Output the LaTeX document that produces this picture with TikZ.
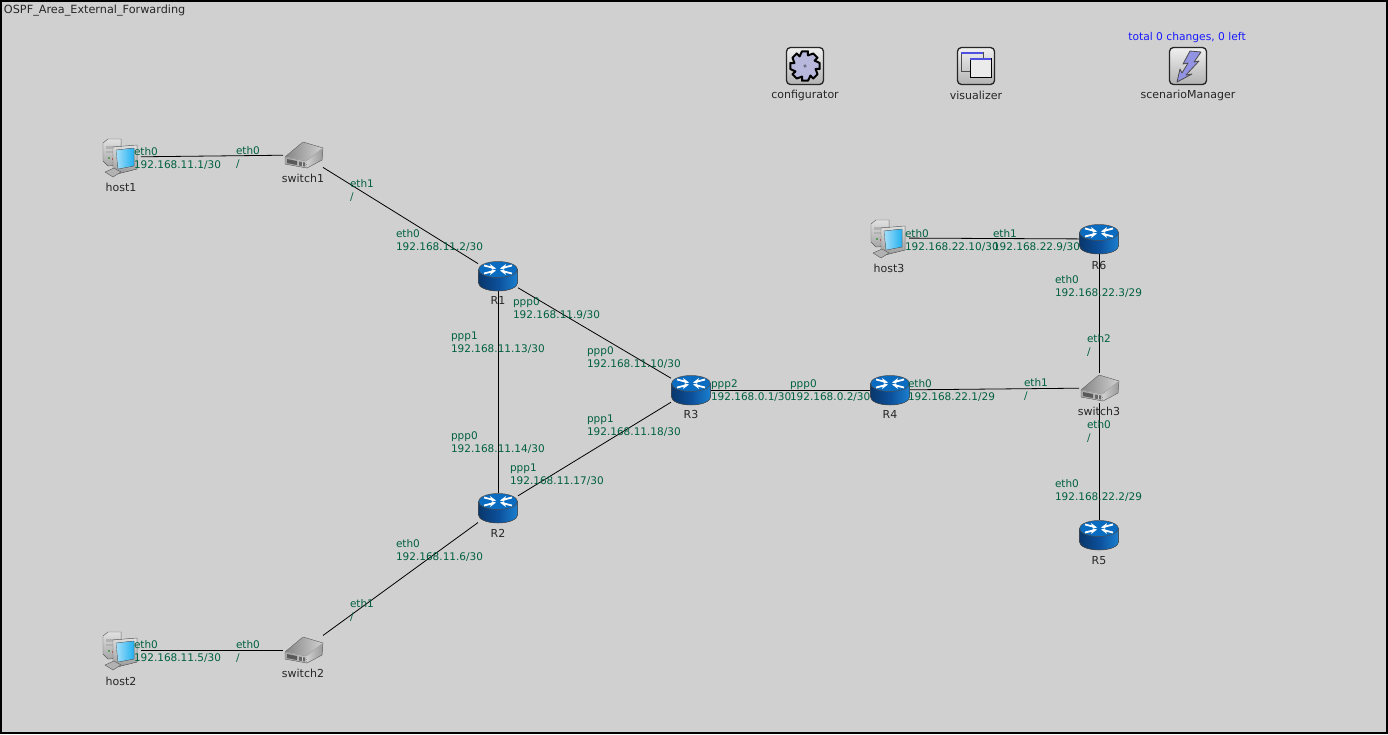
\documentclass[tikz,border=0pt]{standalone}
\usepackage{fontspec}
\setmainfont{DejaVu Sans}
\definecolor{bgc}{HTML}{D0D0D0}
\definecolor{lblc}{HTML}{00603F}
\definecolor{routertop}{HTML}{0A6CC0}
\definecolor{routerdark}{HTML}{0C4F9A}
\definecolor{routerlight}{HTML}{1A80D0}
\definecolor{cyanscr}{HTML}{20B0F0}
\definecolor{gearc}{HTML}{B8B8DC}
\definecolor{winblue}{HTML}{5050E0}
\tikzset{
  box/.style={draw=none,fill=none,inner sep=0pt,outer sep=0pt,minimum width=40pt,minimum height=30pt},
  hostbox/.style={box,minimum height=40pt},
  link/.style={draw=black,line width=0.8pt},
  lbl/.style={anchor=north west,inner sep=0pt,outer sep=0pt,align=left,text=lblc,font=\fontsize{10.5}{13}\selectfont},
  nametext/.style={anchor=center,inner sep=0pt,outer sep=0pt,yshift=0.8pt,text=black!85,font=\fontsize{11}{13}\selectfont},
  pics/router/.style={code={
    \fill[left color=routerdark!70!black,right color=routerlight,middle color=routerdark] (-19.5,-6.5) -- (-19.5,7) arc[start angle=180,end angle=0,x radius=19.5,y radius=8] -- (19.5,-6.5) -- cycle;
    \draw[black!70,line width=0.5pt] (-19.5,-6.5) -- (-19.5,7) arc[start angle=180,end angle=0,x radius=19.5,y radius=8] -- (19.5,-6.5);
    \fill[routertop,draw=black!70,line width=0.5pt] (0,-6.5) ellipse[x radius=19.5,y radius=8];
    \foreach \s in {1,-1}{
      \begin{scope}[xscale=\s]
      \draw[white,line width=1.8pt] (-14,-10.5) -- (-6,-8.5);
      \draw[white,line width=1.8pt] (-14,-2.5) -- (-6,-4.5);
      \fill[white] (-8,-12) -- (-2,-7.5) -- (-6,-6.5) -- cycle;
      \fill[white] (-8,-1) -- (-2,-5.5) -- (-6,-6.5) -- cycle;
      \end{scope}
    }
  }},
  pics/switchicon/.style={code={
    \fill[left color=black!35,right color=black!22] (-18,2) -- (3,6) -- (4,13) -- (-18,9) -- cycle;
    \fill[left color=black!18,right color=black!40] (3,6) -- (20,-7) -- (19,5) -- (4,13) -- cycle;
    \fill[left color=black!48,right color=black!18] (-18,2) -- (0,-13) -- (20,-7) -- (3,6) -- cycle;
    \draw[black!55,line width=0.4pt,line join=round] (-18,2) -- (0,-13) -- (20,-7) -- (19,5) -- (4,13) -- (-18,9) -- cycle;
    \draw[white!70!black,line width=0.5pt] (-18,2) -- (3,6) -- (20,-7);
    \fill[black!65] (-16,4) -- (-6,6) -- (-6,10) -- (-16,8) -- cycle;
    \fill[black!60] (-4,6.5) -- (2,7.5) -- (2,11.5) -- (-4,10.5) -- cycle;
    \draw[white!80!black,line width=0.5pt] (-1,6.5) -- (-1,11);
  }},
  pics/hosticon/.style={code={
    \fill[top color=black!12,bottom color=black!35,draw=black!60,line width=0.4pt] (-18,-14) -- (-13,-18) -- (0,-18) -- (0,8) -- (-13,9) -- (-18,4) -- cycle;
    \fill[black!30] (-15,-11) rectangle (-4,-8);
    \fill[black!30] (-15,-6) rectangle (-4,-4);
    \fill[green!50!black] (-12,1) circle[radius=0.9];
    \fill[red!70!black] (-8,2) circle[radius=0.9];
    \fill[top color=black!12,bottom color=black!40,draw=black!60,line width=0.4pt] (-8,-10) -- (16,-12) -- (16,12) -- (-4,17) -- (-8,13) -- cycle;
    \fill[left color=cyanscr!40!white,right color=cyanscr,draw=black!60,line width=0.3pt] (-5,-7) -- (13,-9) -- (13,9) -- (-3,12) -- cycle;
    \fill[black!30,draw=black!65,line width=0.4pt] (-16,15) -- (-7,11) -- (0,15) -- (-8,20) -- cycle;
  }},
  pics/tile/.style={code={
    \fill[top color=black!6,bottom color=black!30,draw=black!85,line width=1.3pt,rounded corners=4pt] (-18.5,-18.5) rectangle (18.5,18.5);
  }}
}
\begin{document}
\begin{tikzpicture}[x=1pt,y=-1pt]
\useasboundingbox (0,0) rectangle (1388,734);
\fill[bgc] (0,0) rectangle (1388,734);
\draw[black,line width=2pt] (1,1) rectangle (1387,733);
% anchors
\node[hostbox] (host1) at (121,157) {};
\node[hostbox] (host2) at (121,650) {};
\node[hostbox] (host3) at (889,238) {};
\node[box] (switch1) at (303,155) {};
\node[box] (switch2) at (303,650) {};
\node[box] (switch3) at (1099,388) {};
\node[box] (R1) at (498,276) {};
\node[box] (R2) at (498,508) {};
\node[box] (R3) at (691,390) {};
\node[box] (R4) at (890,390) {};
\node[box] (R5) at (1099,535) {};
\node[box] (R6) at (1099,239) {};
% connectors
\draw[link] (host1) -- (switch1);
\draw[link] (switch1) -- (R1);
\draw[link] (R1) -- (R2);
\draw[link] (R1) -- (R3);
\draw[link] (R2) -- (R3);
\draw[link] (R3) -- (R4);
\draw[link] (R2) -- (switch2);
\draw[link] (switch2) -- (host2);
\draw[link] (R4) -- (switch3);
\draw[link] (switch3) -- (R6);
\draw[link] (switch3) -- (R5);
\draw[link] (host3) -- (R6);
% icons
\foreach \p in {(498,276),(498,508),(691,390),(890,390),(1099,535),(1099,239)} \pic at \p {router};
\foreach \p in {(303,155),(303,650),(1099,388)} \pic at \p {switchicon};
\foreach \p in {(121,157),(121,650),(889,238)} \pic at \p {hosticon};
% tiles
\pic at (805,66) {tile};
\pic at (976,66) {tile};
\pic at (1188,66) {tile};
% gear
\begin{scope}[shift={(805,66)},rotate=-22.5]
\fill[gearc,draw=black,line width=2pt,line join=round]
  (11:15)--(34:15)--(38:11)--(56:15)--(79:15)--(83:11)--(101:15)--(124:15)--(128:11)--(146:15)--(169:15)--(173:11)--(191:15)--(214:15)--(218:11)--(236:15)--(259:15)--(263:11)--(281:15)--(304:15)--(308:11)--(326:15)--(349:15)--(353:11)--cycle;
\fill[gearc!60!black] (0,0) circle[radius=1.8];
\end{scope}
% windows
\begin{scope}[shift={(976,66)}]
\draw[black!70,line width=0.8pt] (-15,-14) rectangle (7,5);
\fill[winblue] (-15,-14) rectangle (7,-12);
\draw[black,fill=black!8,line width=0.9pt] (-6,-8) rectangle (15,11);
\fill[winblue] (-6,-8) rectangle (15,-6);
\end{scope}
% lightning
\begin{scope}[shift={(1188,66)}]
\fill[gearc!80!blue,draw=black!70,line width=0.8pt,line join=round] (2,-15) -- (13,-14) -- (6,-4) -- (11,-5) -- (-2,9) -- (4,8) -- (-11,16) -- (-8,3) -- (-6,7) -- (0,-3) -- (-5,-2) -- cycle;
\end{scope}
% names
\node[nametext] (n1) at (121,188) {host1};
\node[nametext] (n2) at (121,682) {host2};
\node[nametext] (n3) at (889,269) {host3};
\node[nametext] (n4) at (303,179) {switch1};
\node[nametext] (n5) at (303,674) {switch2};
\node[nametext] (n6) at (1099,412) {switch3};
\node[nametext] (n7) at (498,301) {R1};
\node[nametext] (n8) at (498,534) {R2};
\node[nametext] (n9) at (691,415) {R3};
\node[nametext] (n10) at (890,415) {R4};
\node[nametext] (n11) at (1099,561) {R5};
\node[nametext] (n12) at (1099,266) {R6};
\node[nametext] (n13) at (805,96) {configurator};
\node[nametext] (n14) at (976,96) {visualizer};
\node[nametext] (n15) at (1188,96) {scenarioManager};
\node[nametext,text=blue!90!white,font=\fontsize{10.7}{13}\selectfont] (n16) at (1187,38) {total 0 changes, 0 left};
\node[nametext,anchor=west,font=\fontsize{11.25}{13}\selectfont] (n17) at (4,11) {OSPF\_Area\_External\_Forwarding};
% interface labels
\node[lbl] (a1) at (134,148) {eth0\\192.168.11.1/30};
\node[lbl] (a2) at (236,147) {eth0\\/};
\node[lbl] (a3) at (350,180) {eth1\\/};
\node[lbl] (a4) at (396,230) {eth0\\192.168.11.2/30};
\node[lbl] (a5) at (513,298) {ppp0\\192.168.11.9/30};
\node[lbl] (a6) at (451,332) {ppp1\\192.168.11.13/30};
\node[lbl] (a7) at (587,347) {ppp0\\192.168.11.10/30};
\node[lbl] (a8) at (587,415) {ppp1\\192.168.11.18/30};
\node[lbl] (a9) at (711,380) {ppp2\\192.168.0.1/30};
\node[lbl] (a10) at (790,380) {ppp0\\192.168.0.2/30};
\node[lbl] (a11) at (908,380) {eth0\\192.168.22.1/29};
\node[lbl] (a12) at (1024,379) {eth1\\/};
\node[lbl] (a13) at (451,432) {ppp0\\192.168.11.14/30};
\node[lbl] (a14) at (510,464) {ppp1\\192.168.11.17/30};
\node[lbl] (a15) at (396,540) {eth0\\192.168.11.6/30};
\node[lbl] (a16) at (350,600) {eth1\\/};
\node[lbl] (a17) at (134,641) {eth0\\192.168.11.5/30};
\node[lbl] (a18) at (236,641) {eth0\\/};
\node[lbl] (a19) at (905,230) {eth0\\192.168.22.10/30};
\node[lbl] (a20) at (993,230) {eth1\\192.168.22.9/30};
\node[lbl] (a21) at (1055,276) {eth0\\192.168.22.3/29};
\node[lbl] (a22) at (1087,335) {eth2\\/};
\node[lbl] (a23) at (1087,421) {eth0\\/};
\node[lbl] (a24) at (1055,480) {eth0\\192.168.22.2/29};
\end{tikzpicture}
\end{document}
